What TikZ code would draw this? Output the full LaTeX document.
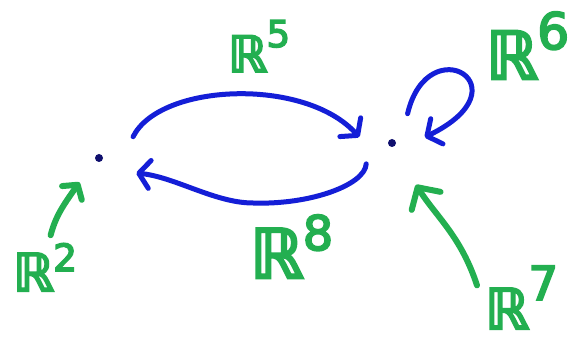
\documentclass[tikz,border=0pt]{standalone}
\usepackage{fontspec}
\usepackage{graphicx}
\newfontfamily\labf{DejaVu Sans}[FakeBold=4]
\usetikzlibrary{arrows.meta}
\definecolor{mkblue}{RGB}{20,30,215}
\definecolor{mkgreen}{RGB}{35,175,80}
\definecolor{dotblue}{RGB}{15,15,110}
\newcommand\Rpow[3]{ℝ\kern-1pt\raisebox{#3}{\scalebox{#2}{#1}}}
\begin{document}
\begin{tikzpicture}[x=1pt,y=1pt,
  vtx/.style={circle,inner sep=0pt,minimum size=#1,
    path picture={\fill[dotblue] (path picture bounding box.center) circle (4pt);}},
  lab/.style={text=mkgreen,inner sep=0pt,outer sep=8pt,anchor=base west,
    font=\labf\fontsize{#1}{#1}\selectfont},
  bluearr/.style={draw=mkblue,line width=5pt,line cap=round,line join=round,
    -{Straight Barb[round,length=11pt,width=28pt]}},
  greenarr/.style={draw=mkgreen,line width=6pt,line cap=round,line join=round,
    -{Straight Barb[round,length=#1]}}
]
\useasboundingbox (0,0) rectangle (570,345);
\fill[white] (0,0) rectangle (570,345);

% points
\node[vtx=80pt] (L) at (99,187) {};
\node[vtx=66pt] (R) at (392,202) {};

% labels
\node[lab=50] (lab5) at (220,273) {\Rpow{5}{0.74}{25pt}};
\node[lab=66] (lab6) at (478,266) {\Rpow{6}{0.76}{30pt}};
\node[lab=68] (lab8) at (242,67) {\Rpow{8}{0.70}{28pt}};
\node[lab=52] (lab2) at (5,54) {\Rpow{2}{0.72}{20pt}};
\node[lab=56] (lab7) at (477,16) {\Rpow{7}{0.84}{29pt}};

% blue maps
\draw[bluearr] (L.32) .. controls (160,262) and (305,268) .. (R.170);
\draw[bluearr] (R.219) .. controls (365,160) and (310,140) .. (253,142)
                       .. controls (215,142) and (175,168) .. (L.-22);
\draw[bluearr] (R.62) .. controls (428,318) and (528,258) .. (R.10);

% green arrows
\draw[greenarr={10pt,width=24pt},shorten >=-9pt] (lab2.80) to[out=75,in=-125] (L.232);
\draw[greenarr={16pt,width=34pt},shorten >=15pt] (lab7.165) to[out=108,in=-58] (R.-61);
\end{tikzpicture}
\end{document}
